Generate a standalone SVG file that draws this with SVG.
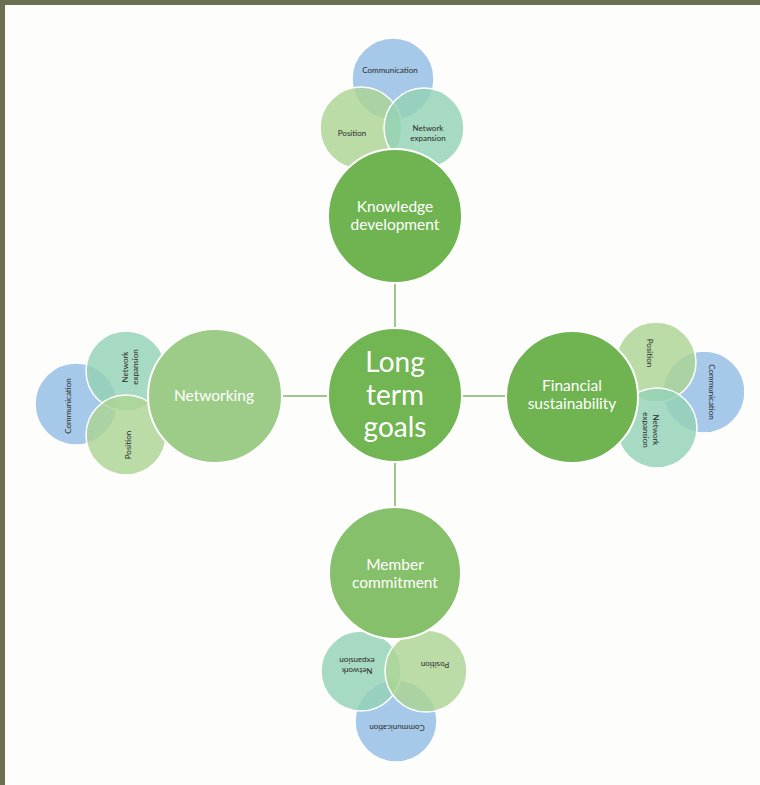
<svg xmlns="http://www.w3.org/2000/svg" width="760" height="785" viewBox="0 0 760 785">
<style>
.bg{fill:#fdfdfb}
.frame{fill:#6b7150}
.link{stroke:#9cc98a;stroke-width:2;fill:none}
.big{stroke:#ffffff;stroke-width:2}
.comm{fill:#a6c9ea;stroke:#ffffff;stroke-width:1.5}
.pos{fill:#acd494;fill-opacity:0.82;stroke:#ffffff;stroke-width:1.5}
.ne{fill:#94d2b6;fill-opacity:0.82;stroke:#ffffff;stroke-width:1.5}
.st{font-family:Lato,"Open Sans",sans-serif;font-size:8px;fill:#2b2b2b;text-anchor:middle}
.bt{font-family:Lato,"Open Sans",sans-serif;font-size:15.5px;fill:#ffffff;text-anchor:middle}
.ct{font-family:Lato,"Open Sans",sans-serif;font-size:28px;fill:#ffffff;text-anchor:middle}
</style>
<rect class="frame" x="0" y="0" width="760" height="785"/>
<rect class="bg" x="5" y="5" width="755" height="780"/>

<g id="connectors">
<line class="link" x1="395" y1="282" x2="395" y2="328"/>
<line class="link" x1="395" y1="462" x2="395" y2="507"/>
<line class="link" x1="282" y1="396" x2="328" y2="396"/>
<line class="link" x1="462" y1="396" x2="506" y2="396"/>
</g>

<g id="top-cluster">
<circle class="comm" cx="393" cy="79" r="41"/>
<circle class="pos" cx="361" cy="128" r="41"/>
<circle class="ne" cx="424" cy="128" r="40"/>
<text class="st" x="390" y="73">Communication</text>
<text class="st" x="352" y="136">Position</text>
<text class="st" x="428" y="131">Network<tspan x="428" y="141">expansion</tspan></text>
</g>

<g id="left-cluster">
<circle class="comm" cx="76" cy="404" r="41"/>
<circle class="ne" cx="126" cy="371" r="40"/>
<circle class="pos" cx="126" cy="435" r="40"/>
<g transform="translate(68 406) rotate(-90)"><text class="st" x="0" y="3">Communication</text></g>
<g transform="translate(130 367) rotate(-90)"><text class="st" x="0" y="-2">Network<tspan x="0" y="8">expansion</tspan></text></g>
<g transform="translate(128 445) rotate(-90)"><text class="st" x="0" y="3">Position</text></g>
</g>

<g id="right-cluster">
<circle class="comm" cx="704" cy="392" r="41"/>
<circle class="pos" cx="656" cy="362" r="40"/>
<circle class="ne" cx="657" cy="428" r="40"/>
<g transform="translate(712 392) rotate(90)"><text class="st" x="0" y="3">Communication</text></g>
<g transform="translate(651 430) rotate(90)"><text class="st" x="0" y="-2">Network<tspan x="0" y="8">expansion</tspan></text></g>
<g transform="translate(650 353) rotate(90)"><text class="st" x="0" y="3">Position</text></g>
</g>

<g id="bottom-cluster">
<circle class="comm" cx="396" cy="721" r="41"/>
<circle class="ne" cx="361" cy="671" r="40"/>
<circle class="pos" cx="426" cy="671" r="41"/>
<g transform="translate(397 728) rotate(180)"><text class="st" x="0" y="3">Communication</text></g>
<g transform="translate(357 666) rotate(180)"><text class="st" x="0" y="-2">Network<tspan x="0" y="8">expansion</tspan></text></g>
<g transform="translate(435 665) rotate(180)"><text class="st" x="0" y="3">Position</text></g>
</g>

<g id="knowledge-development">
<circle class="big" cx="395" cy="216" r="67" fill="#6fb451"/>
<text class="bt" x="395" y="212">Knowledge<tspan x="395" y="230">development</tspan></text>
</g>

<g id="networking">
<circle class="big" cx="215" cy="396" r="67" fill="#9dcc88"/>
<text class="bt" x="214" y="401">Networking</text>
</g>

<g id="financial-sustainability">
<circle class="big" cx="572" cy="397" r="66" fill="#6fb451"/>
<text class="bt" x="572" y="391">Financial<tspan x="572" y="409">sustainability</tspan></text>
</g>

<g id="member-commitment">
<circle class="big" cx="395" cy="573" r="66" fill="#86c06b"/>
<text class="bt" x="395" y="570">Member<tspan x="395" y="588">commitment</tspan></text>
</g>

<g id="long-term-goals">
<circle class="big" cx="395" cy="395" r="67" fill="#72b553"/>
<text class="ct" x="395" y="372">Long<tspan x="395" y="405">term</tspan><tspan x="395" y="437">goals</tspan></text>
</g>
</svg>
